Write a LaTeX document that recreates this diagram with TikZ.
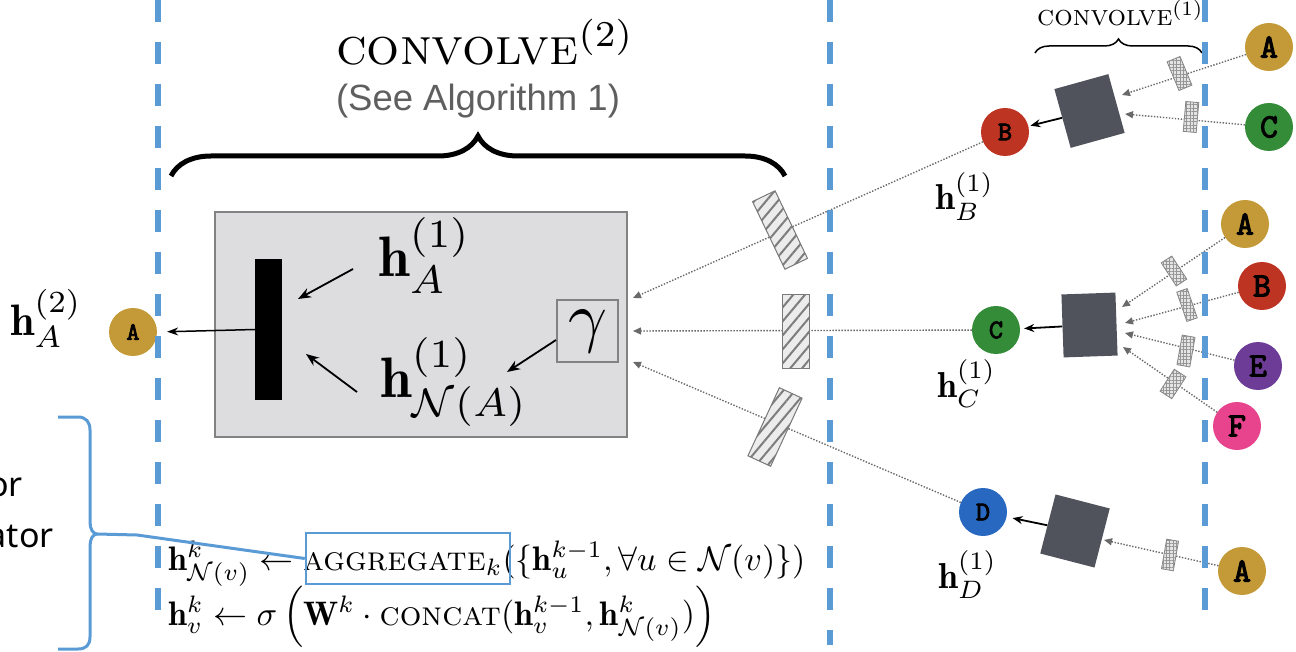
\documentclass[tikz,border=0pt]{standalone}
\usepackage{fontspec}
\usepackage{amsmath}
\usetikzlibrary{arrows.meta,decorations.pathreplacing,patterns.meta,calc}
\newfontfamily\helv{Liberation Sans}
\newfontfamily\notos{Noto Sans}
\newfontfamily\ttb{lmmono10-regular.otf}[FakeBold=3]
\newcommand{\setfs}[1]{\fontsize{#1}{#1}\selectfont}
\definecolor{dashblue}{RGB}{91,155,213}
\definecolor{goldn}{RGB}{196,154,56}
\definecolor{redn}{RGB}{190,52,35}
\definecolor{greenn}{RGB}{52,140,56}
\definecolor{purplen}{RGB}{108,60,150}
\definecolor{pinkn}{RGB}{232,68,142}
\definecolor{bluen}{RGB}{40,104,192}
\definecolor{darksq}{RGB}{80,83,92}
\definecolor{boxgray}{RGB}{221,221,223}
\definecolor{boxedge}{RGB}{130,130,130}
\definecolor{hatchedge}{RGB}{120,120,120}
\definecolor{hatchfill}{RGB}{236,236,236}
\definecolor{hatchline}{RGB}{125,125,125}
\definecolor{gridedge}{RGB}{130,130,130}
\definecolor{gridfill}{RGB}{228,228,228}
\definecolor{gridline}{RGB}{150,150,150}
\definecolor{dotgray}{RGB}{105,105,105}
\definecolor{subgray}{RGB}{95,95,95}
\begin{document}
\begin{tikzpicture}[x=1pt,y=-1pt,
  vnode/.style={circle,inner sep=0pt,minimum size=48pt,text=black,font=\ttb\setfs{27}},
  leaf/.style={vnode,font=\ttb\setfs{34}},
  sqbox/.style={fill=darksq,inner sep=0pt,minimum width=56pt,minimum height=61pt},
  hatchbox/.style={draw=hatchedge,line width=1pt,fill=hatchfill,inner sep=0pt,minimum width=25pt,minimum height=75pt,postaction={pattern={Lines[angle=50,distance=9pt,line width=2pt]},pattern color=hatchline}},
  gridbox/.style={draw=gridedge,line width=0.8pt,fill=gridfill,inner sep=0pt,postaction={pattern={Hatch[distance=3.4pt,line width=0.5pt]},pattern color=gridline}},
  dotarrow/.style={draw=dotgray,line width=1.4pt,dash pattern=on 1.4pt off 1.6pt,-{Triangle[length=8pt,width=7pt]}},
  blackarrow/.style={line width=1.8pt,-{Stealth[length=13pt,width=10pt]}},
  sqarrow/.style={line width=1.8pt,-{Stealth[length=10pt,width=8pt]}},
  bluedash/.style={draw=dashblue,line width=6pt,dash pattern=on 22pt off 20pt},
  lbl/.style={inner sep=0pt,anchor=base west},
]
\useasboundingbox (0,0) rectangle (1296,652);

% ---- gray CONVOLVE box ----
\node[fill=boxgray,draw=boxedge,line width=1.5pt,minimum width=412pt,minimum height=225pt,inner sep=0pt] (gbox) at (421,324.5) {};
\node[fill=black,minimum width=27pt,minimum height=141pt,inner sep=0pt] (bar) at (268.5,329.5) {};
\node[draw=boxedge,line width=1.2pt,minimum width=61pt,minimum height=62pt,inner sep=0pt] (gam) at (587.5,331) {\scalebox{6.8}{$\gamma$}};
\node[lbl] (hA1) at (378,277) {\scalebox{5.7}{$\mathbf{h}^{(1)}_{A}$}};
\node[lbl] (hNA) at (380,397) {\scalebox{5.7}{$\mathbf{h}^{(1)}_{\mathcal{N}(A)}$}};
\coordinate (p1s) at (353,269);
\coordinate (p1e) at (298,299);
\coordinate (p2s) at (357,392);
\coordinate (p2e) at (306,354);
\coordinate (p3s) at (556,340);
\coordinate (p3e) at (507,372);
\draw[blackarrow] (p1s) -- (p1e);
\draw[blackarrow] (p2s) -- (p2e);
\draw[blackarrow] (p3s) -- (p3e);

% ---- left output node ----
\node[vnode,fill=goldn,font=\ttb\setfs{25}] (A0) at (133,332) {A};
\node[lbl] (hA2) at (10,335) {\scalebox{4.4}{$\mathbf{h}^{(2)}_{A}$}};
\draw[line width=1.5pt,-{Stealth[length=11pt,width=8pt]},shorten >=10pt] (bar.west) -- (A0.east);

% ---- first-level nodes ----
\node[vnode,fill=redn] (B1) at (1005,132) {B};
\node[vnode,fill=greenn] (C1) at (996,330) {C};
\node[vnode,fill=bluen] (D1) at (983,512) {D};
\node[lbl] (hB) at (935,210) {\scalebox{3.6}{$\mathbf{h}^{(1)}_{B}$}};
\node[lbl] (hC) at (937,397) {\scalebox{3.6}{$\mathbf{h}^{(1)}_{C}$}};
\node[lbl] (hD) at (938,588) {\scalebox{3.6}{$\mathbf{h}^{(1)}_{D}$}};

% ---- dark aggregation squares ----
\node[sqbox,rotate=15.5] (SB) at (1089.5,111) {};
\node[sqbox,rotate=2,minimum width=54pt,minimum height=63pt] (SC) at (1089.5,325) {};
\node[sqbox,rotate=-14.5] (SD) at (1075,531) {};

% ---- leaf nodes ----
\node[leaf,fill=goldn] (AB) at (1269,47) {A};
\node[leaf,fill=greenn] (CB) at (1269,127) {C};
\node[leaf,fill=goldn] (AC) at (1245,224) {A};
\node[leaf,fill=redn] (BC) at (1262,286) {B};
\node[leaf,fill=purplen] (EC) at (1258,366) {E};
\node[leaf,fill=pinkn] (FC) at (1237,426) {F};
\node[leaf,fill=goldn] (AD) at (1242,571) {A};

% ---- dotted message lines ----
\coordinate (g1) at (633,298);
\coordinate (g2) at (633,331);
\coordinate (g3) at (633,362);
\draw[dotarrow] (B1) -- (g1);
\draw[dotarrow] (C1) -- (g2);
\draw[dotarrow] (D1) -- (g3);
\coordinate (tb1) at (1122,95);
\coordinate (tb2) at (1125,114);
\draw[dotarrow] (AB) -- (tb1);
\draw[dotarrow] (CB) -- (tb2);
\coordinate (tc1) at (1122,307);
\coordinate (tc2) at (1125,323);
\coordinate (tc3) at (1125,333);
\coordinate (tc4) at (1123,347);
\draw[dotarrow] (AC) -- (tc1);
\draw[dotarrow] (BC) -- (tc2);
\draw[dotarrow] (EC) -- (tc3);
\draw[dotarrow] (FC) -- (tc4);
\coordinate (td1) at (1104,540);
\draw[dotarrow] (AD) -- (td1);

% ---- weight blocks ----
\node[hatchbox,rotate=25.6] (H1) at (780,230) {};
\node[hatchbox,minimum width=27pt,minimum height=73pt] (H2) at (795.5,331.5) {};
\node[hatchbox,rotate=-24.8] (H3) at (775,427) {};
\node[gridbox,minimum width=14pt,minimum height=31pt,rotate=22.5] (G1) at (1179.5,73.5) {};
\node[gridbox,minimum width=13pt,minimum height=30pt,rotate=-5] (G2) at (1191,117) {};
\node[gridbox,minimum width=12.5pt,minimum height=27.5pt,rotate=33] (G3) at (1174,271) {};
\node[gridbox,minimum width=11pt,minimum height=31pt,rotate=19] (G4) at (1187,305) {};
\node[gridbox,minimum width=13pt,minimum height=30pt,rotate=-10] (G5) at (1186,351) {};
\node[gridbox,minimum width=14pt,minimum height=26pt,rotate=-33] (G6) at (1173,384) {};
\node[gridbox,minimum width=12pt,minimum height=30pt,rotate=-10] (G7) at (1170,555) {};

% ---- square -> node arrows ----
\draw[sqarrow,shorten >=2pt] (SB) -- (B1);
\draw[sqarrow,shorten >=4pt] (SC) -- (C1);
\draw[sqarrow,shorten >=6pt] (SD) -- (D1);

% ---- titles and braces ----
\node[lbl] (conv2) at (336,65) {\scalebox{5.2}{\textsc{convolve}$^{(2)}$}};
\node[inner sep=0pt,anchor=base,font=\helv\setfs{36.5},text=subgray] (seealg) at (478,111) {(See Algorithm 1)};
\draw[decorate,decoration={brace,amplitude=40pt},line width=5pt] (171,176) -- (785,176);
\node[lbl] (conv1) at (1037,26) {\scalebox{2.9}{\textsc{convolve}$^{(1)}$}};
\draw[decorate,decoration={brace,amplitude=14pt},line width=1.5pt] (1035,53) -- (1202,53);

% ---- formulas ----
\node[lbl] (eq1) at (168,570) {\scalebox{3.4}{$\mathbf{h}^{k}_{\mathcal{N}(v)} \leftarrow \textsc{aggregate}_k(\{\mathbf{h}^{k-1}_{u}, \forall u \in \mathcal{N}(v)\})$}};
\node[lbl] (eq2) at (168,625) {\scalebox{3.4}{$\mathbf{h}^{k}_{v} \leftarrow \sigma\,\Big(\mathbf{W}^{k}\cdot\textsc{concat}(\mathbf{h}^{k-1}_{v},\mathbf{h}^{k}_{\mathcal{N}(v)})\Big)$}};
\node[draw=dashblue,line width=2.5pt,minimum width=204pt,minimum height=51pt,inner sep=0pt] (aggbox) at (408,558.5) {};

% ---- blue annotation brace ----
\coordinate (btip) at (97,534);
\coordinate (bbend) at (137,535);
\draw[dashblue,line width=3pt,line join=round]
  (58,417) -- (78,417) .. controls (86,417) and (90,422) .. (90,430) -- (90,522)
  .. controls (90,529) and (93,534) .. (btip)
  .. controls (93,534) and (90,539) .. (90,546) -- (90,637)
  .. controls (90,645) and (86,649) .. (78,649) -- (58,649);
\draw[dashblue,line width=3pt] (btip) -- (bbend) -- (aggbox.west);
\node[inner sep=0pt,anchor=base east,font=\notos\setfs{34}] (txtor) at (23,496) {or};
\node[inner sep=0pt,anchor=base east,font=\notos\setfs{34}] (txtator) at (54,547) {ator};

% ---- dashed layer separators ----
\draw[bluedash] (158,0) -- (158,612);
\draw[bluedash] (830,0) -- (830,645);
\draw[bluedash] (1205,0) -- (1205,625);
\end{tikzpicture}
\end{document}
